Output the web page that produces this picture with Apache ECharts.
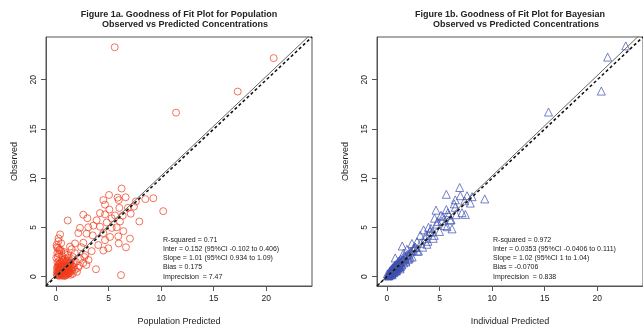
<!DOCTYPE html>
<html><head><meta charset="utf-8">
<script src="https://cdn.jsdelivr.net/npm/echarts@6/dist/echarts.min.js"></script>
<style>html,body{margin:0;padding:0;background:#fff}#c{width:643px;height:331px}</style>
</head><body><div id="c"></div>
<script>
// ---- data ----
var axisRange = [-0.94, 24.34];
var tickValues = [0, 5, 10, 15, 20];
var titlesA = ['Figure 1a. Goodness of Fit Plot for Population', 'Observed vs Predicted Concentrations'];
var titlesB = ['Figure 1b. Goodness of Fit Plot for Bayesian', 'Observed vs Predicted Concentrations'];
var xNameA = 'Population Predicted';
var xNameB = 'Individual Predicted';
var yName = 'Observed';
var statsA = ['R-squared = 0.71', 'Inter = 0.152 (95%CI -0.102 to 0.406)', 'Slope = 1.01 (95%CI 0.934 to 1.09)', 'Bias = 0.175', 'Imprecision  = 7.47'];
var statsB = ['R-squared = 0.972', 'Inter = 0.0353 (95%CI -0.0406 to 0.111)', 'Slope = 1.02 (95%CI 1 to 1.04)', 'Bias = -0.0706', 'Imprecision  = 0.838'];
var fitA = [0.152, 1.01];   // intercept, slope
var fitB = [0.0353, 1.02];

// Population predicted (x) and observed (y)
var popPred = [5.59,20.7,17.28,11.42,6.25,5.05,5.87,6.63,5.97,4.51,4.67,9.26,8.5,7.6,7.42,6.85,6.03,10.2,5.08,4.19,4.67,2.6,7.11,5.62,6.35,2.99,1.12,3.87,5.3,7.93,6.09,4.83,3.56,3.08,2.29,4.19,5.3,5.78,6.41,4.51,3.5,2.92,2.13,5.93,5.14,4.67,7.04,5.97,2.61,1.82,1.34,4.03,4.98,6.66,4.51,3.81,6.19,
 0.23,0.07,0.39,0.14,0.04,0.3,0.5,0.6,0.8,0.9,1.0,0.4,0.7,1.1,1.2,0.2,0.5,0.8,1.3,1.5,0.9,0.6,0.3,1.4,1.7,1.1,0.5,0.2,0.8,1.6,1.9,2.1,2.3,1.8,2.6,0.6,1.0,1.3,0.4,0.7,1.0,0.3,0.9,1.2,0.6,0.2,0.4,0.7,1.0,1.2,1.5,1.6,2.0,0.8,0.5,2.8,3.1,2.4,2.9,3.4,1.5,2.2,2.7,0.35,0.55,0.75,0.95,1.15,0.45,0.65,0.85,1.05,0.25,0.15,1.35,0.1,0.6,0.9,
 0.1,0.2,0.3,0.4,0.5,0.6,0.7,0.8,0.9,1.0,1.1,1.2,1.3,0.4,0.5,0.6,0.7,0.8,0.9,1.0,1.1,1.2,1.4,1.5,0.3,0.2,0.1,0.3,0.5,0.7,0.9,1.1,1.3,1.7,1.8,0.6,0.8,1.0,1.2,1.4,0.4,0.9,0.65,0.75,0.85,0.55,0.95,1.05,0.45,1.15,0.35,0.25,0.15,0.2,0.3,0.25,0.4,0.1,0.5,0.3];
var popObs = [23.3,22.2,18.8,16.66,8.96,8.3,8.03,8.07,7.78,7.78,7.32,7.97,7.88,7.64,7.12,6.99,6.99,6.66,6.82,6.46,6.33,6.3,6.4,6.23,6.2,5.94,5.71,5.74,5.94,5.61,5.61,5.51,5.19,5.02,4.96,5.08,4.96,5.02,4.63,4.43,4.2,4.37,4.43,4.1,4.04,3.71,3.87,3.38,3.45,3.38,3.06,3.22,2.89,2.99,2.66,0.76,0.17,
 3.6,3.22,2.79,2.4,1.9,0.5,0.8,0.4,0.9,0.6,1.1,1.2,1.5,0.7,1.3,0.2,0.3,0.2,0.9,1.2,1.8,2.1,1.6,1.6,1.0,2.2,2.6,2.9,2.5,2.0,1.5,0.9,1.8,2.4,1.4,0.1,0.3,0.4,0.9,0.7,0.9,0.1,0.1,0.6,1.1,1.0,0.6,1.2,1.5,1.9,0.6,0.3,0.5,1.3,1.5,2.2,1.7,3.0,1.2,2.6,2.8,1.1,2.0,0.7,0.45,0.65,0.85,0.35,0.25,0.55,1.05,0.75,0.95,0.15,1.4,0.5,1.7,2.3,
 0.2,0.4,0.3,0.2,0.5,0.6,0.3,0.5,0.4,0.6,0.4,0.8,0.6,0.7,1.0,0.8,1.0,0.7,1.0,0.8,1.0,1.1,1.0,0.8,0.8,0.6,0.9,1.3,1.3,1.7,1.4,1.6,1.4,1.3,0.7,0.2,0.1,0.2,0.3,0.2,0.4,0.8,0.55,0.85,0.65,0.75,0.55,0.75,0.95,0.55,0.45,1.15,1.45,2.0,2.3,3.9,4.3,3.0,3.4,2.7];

// Individual predicted (x) and observed (y)
var indPred = [22.7,20.98,20.38,15.36,6.92,5.65,6.98,7.62,8.1,9.3,6.5,7.39,7.93,4.67,5.65,6.5,7.14,7.46,5.14,5.87,4.53,5.24,6.03,4.76,6.19,5.71,3.96,3.49,4.29,3.17,3.65,2.86,2.38,1.46,1.9,2.53,1.58,0.79,
 4.1,3.8,4.4,2.7,3.0,2.2,2.0,1.7,1.2,1.0,0.9,1.3,1.5,1.8,0.6,0.8,0.5,0.3,0.2,0.4,0.7,1.1,1.4,0.1,0.05,0.35,0.55,0.65,0.85,0.95,1.05,1.15,1.25,0.45,0.25,0.15,0.75,1.6,1.35,0.6,0.9,1.2,0.3,0.5,0.7,2.1,2.4,1.1,0.4,0.2,
 0.1,0.2,0.3,0.4,0.5,0.6,0.7,0.8,0.9,1.0,1.1,1.2,1.3,1.4,1.5,1.6,1.7,1.8,2.0,2.2,0.35,0.45,0.55,0.65,0.75,0.85,0.95,1.05,1.15,1.25,0.15,0.25,0.5,0.7,0.9,1.1,1.3,0.4,0.6,0.8,2.5,2.7,2.9,3.2,3.4,3.7,3.9,4.2,4.5,4.8,5.0,5.3,5.5,5.8,6.1,6.4,6.6,2.3,1.9,2.1];
var indObs = [23.44,22.3,18.85,16.72,9.06,8.37,8.23,8.23,8.13,7.9,7.81,7.71,7.48,6.76,6.82,7.05,6.5,6.33,6.23,6.26,5.94,5.67,5.74,5.35,4.86,5.08,5.02,4.76,4.53,4.2,3.87,3.55,3.38,3.12,2.79,2.89,2.4,1.91,
 4.6,3.3,3.9,3.0,2.6,2.5,1.8,2.1,1.6,1.3,0.7,1.0,1.9,1.5,0.9,1.1,0.4,0.6,0.2,0.5,0.5,1.4,1.2,0.1,0.3,0.2,0.8,0.4,0.6,1.1,0.9,1.3,0.8,0.3,0.5,0.1,1.0,1.7,1.5,0.9,0.6,1.0,0.4,0.2,0.9,2.2,2.0,1.2,0.7,0.3,
 0.15,0.1,0.35,0.3,0.6,0.5,0.8,0.7,1.0,0.9,1.3,1.1,1.4,1.2,1.7,1.4,1.9,1.6,2.3,2.0,0.5,0.4,0.45,0.75,0.6,0.9,0.8,1.2,1.0,1.5,0.3,0.2,0.85,1.1,1.3,1.6,1.8,0.7,0.95,1.2,2.7,3.0,2.6,3.4,3.0,4.2,3.6,4.9,4.2,5.6,4.6,6.1,5.2,6.5,5.8,7.4,6.3,2.6,2.2,1.8];

// ---- chart ----
function pairs(xs, ys){ return xs.map(function(v,i){ return [v, ys[i]]; }); }
function fitLine(f){ return [[axisRange[0], f[0]+f[1]*axisRange[0]],[axisRange[1], f[0]+f[1]*axisRange[1]]]; }
var idLine = [[axisRange[0], axisRange[0]],[axisRange[1], axisRange[1]]];
var font = '"Liberation Sans", Arial, sans-serif';
var txt = '#222';

function xAx(gi, name){
  return {gridIndex: gi, type:'value', min: axisRange[0], max: axisRange[1],
    name: name, nameLocation:'middle', nameGap: 31,
    nameTextStyle:{fontFamily:font, fontSize:9, color:txt},
    axisLine:{show:true, onZero:false, lineStyle:{color:'#555', width:1}},
    axisTick:{show:true, length:5, customValues: tickValues, lineStyle:{color:'#555'}},
    axisLabel:{customValues: tickValues, margin:8, fontFamily:font, fontSize:8.5, color:txt},
    splitLine:{show:false}};
}
function yAx(gi){
  return {gridIndex: gi, type:'value', min: axisRange[0], max: axisRange[1],
    name: yName, nameLocation:'middle', nameGap: 27, nameRotate: 90,
    nameTextStyle:{fontFamily:font, fontSize:9, color:txt},
    axisLine:{show:true, onZero:false, lineStyle:{color:'#555', width:1}},
    axisTick:{show:true, length:5, customValues: tickValues, lineStyle:{color:'#555'}},
    axisLabel:{customValues: tickValues, rotate:90, margin:8, fontFamily:font, fontSize:8.5, color:txt},
    splitLine:{show:false}};
}
function titleItems(lines, cx, stats, sx){
  return [
    {text: lines[0], left: cx, top: 10, padding:0, textAlign:'center', textStyle:{fontFamily:font, fontSize:9, fontWeight:'bold', color:txt}},
    {text: lines[1], left: cx+6, top: 20, padding:0, textAlign:'center', textStyle:{fontFamily:font, fontSize:9, fontWeight:'bold', color:txt}},
    {text: stats.join('\n'), left: sx, top: 235, padding:0, textStyle:{fontFamily:font, fontSize:7, fontWeight:'normal', lineHeight:9.3, color:txt}}
  ];
}

var chart = echarts.init(document.getElementById('c'), null, {renderer:'canvas'});
chart.setOption({
  animation:false,
  backgroundColor:'#fff',
  title: titleItems(titlesA, 179, statsA, 163).concat(titleItems(titlesB, 510, statsB, 493)),
  grid:[
    {left:46, top:37, width:266, height:257, show:true, borderColor:'#555', borderWidth:1, backgroundColor:'transparent'},
    {left:377, top:37, width:266, height:257, show:true, borderColor:'#555', borderWidth:1, backgroundColor:'transparent'}
  ],
  xAxis:[xAx(0, xNameA), xAx(1, xNameB)],
  yAxis:[yAx(0), yAx(1)],
  series:[
    {type:'scatter', xAxisIndex:0, yAxisIndex:0, data: pairs(popPred, popObs), symbol:'circle', symbolSize:7,
      itemStyle:{color:'rgba(0,0,0,0)', borderColor:'#f03c1c', borderWidth:0.9}, z:2},
    {type:'line', xAxisIndex:0, yAxisIndex:0, data: fitLine(fitA), symbol:'none', clip:true,
      lineStyle:{color:'#666', width:1}, z:3},
    {type:'line', xAxisIndex:0, yAxisIndex:0, data: idLine, symbol:'none', clip:true,
      lineStyle:{color:'#111', width:1.6, type:[3,2.5]}, z:4},
    {type:'scatter', xAxisIndex:1, yAxisIndex:1, data: pairs(indPred, indObs), symbol:'triangle', symbolSize:8,
      itemStyle:{color:'rgba(0,0,0,0)', borderColor:'#3f51b0', borderWidth:0.9}, z:2},
    {type:'line', xAxisIndex:1, yAxisIndex:1, data: fitLine(fitB), symbol:'none', clip:true,
      lineStyle:{color:'#666', width:1}, z:3},
    {type:'line', xAxisIndex:1, yAxisIndex:1, data: idLine, symbol:'none', clip:true,
      lineStyle:{color:'#111', width:1.6, type:[3,2.5]}, z:4}
  ]
});
</script></body></html>
